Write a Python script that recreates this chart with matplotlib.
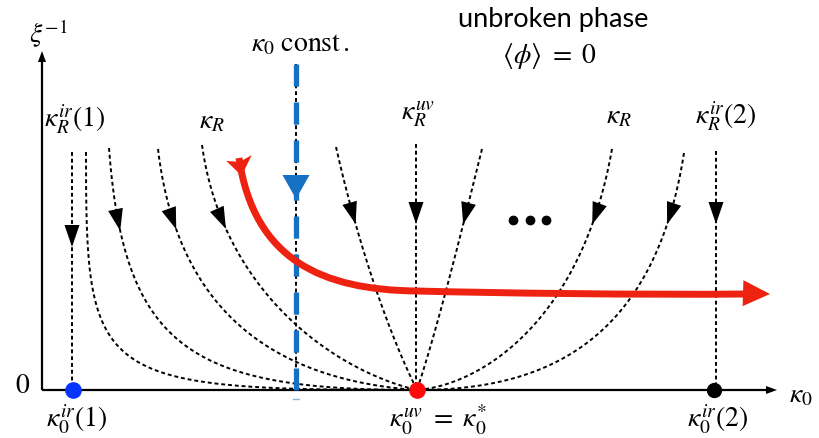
import numpy as np
import matplotlib
matplotlib.use("Agg")
import matplotlib.pyplot as plt
from matplotlib.path import Path
from matplotlib.patches import PathPatch, Polygon

plt.rcParams['mathtext.fontset'] = 'stix'
plt.rcParams['font.family'] = ['STIXGeneral', 'DejaVu Sans']

# ---- schematic data (kappa_0 horizontal, xi^-1 vertical) ----
# fixed points on the kappa_0 axis
fixed_x = [31, 375, 672]
fixed_colors = ['#0535ff', '#ff0a0a', '#000000']
fixed_labels = [r'$\kappa_0^{ir}(1)$', r'$\kappa_0^{uv}\ =\ \kappa_0^{*}$', r'$\kappa_0^{ir}(2)$']
fixed_label_x = [35, 396, 676]

# vertical flows into the IR fixed points and the UV fixed point
vert_x = [30, 374, 674]
vert_top = [238, 246, 239]
vert_arrow_y = [143, 166, 166]

# curved flows into the UV fixed point (cubic Bezier control points)
flow_p0 = [(44, 238), (67, 242), (116, 241), (160, 245), (294, 243), (440, 241), (570, 241), (642, 237)]
flow_p1 = [(44, 10), (82, 40), (135, 80), (180, 100), (315, 150), (420, 160), (540, 70), (612, 45)]
flow_p2 = [(50, 0), (150, 0), (230, 10), (290, 20), (345, 60), (395, 60), (440, 5), (500, 0)]
flow_arrow_y = [None, 159, 161, 161, 166, 166, 166, 166]

# constant-kappa_0 line
const_x = 254
const_top = 326
const_arrow_y = 191

# phase trajectory (red)
traj_ctrl = [(197, 232), (212, 130), (280, 100), (375, 99),
             (450, 97), (600, 95), (705, 96)]
traj_tip = (728, 96)

# ellipsis dots
ell_x = [471, 488, 504]
ell_y = 170

# coupling labels above the flows
top_labels = [r'$\kappa_R^{ir}(1)$', r'$\kappa_R$', r'$\kappa_R^{uv}$', r'$\kappa_R$', r'$\kappa_R^{ir}(2)$']
top_label_x = [33, 170, 376, 577, 684]
top_label_y = [271, 269, 276, 274, 274]

BLUE_LINE = '#1670c4'
RED_LINE = '#ee2211'

fig = plt.figure(figsize=(8.19, 4.39), dpi=100)
ax = fig.add_axes([0, 0, 1, 1])
ax.set_xlim(-42, 777)
ax.set_ylim(-48, 391)
ax.axis('off')


def head(tip, direction, length, width, color, z=5):
    d = np.asarray(direction, float)
    d /= np.hypot(*d)
    n = np.array([-d[1], d[0]])
    tip = np.asarray(tip, float)
    base = tip - d * length
    pts = [tip, base + n * width / 2, base - n * width / 2]
    ax.add_patch(Polygon(pts, closed=True, facecolor=color, edgecolor='none', zorder=z))


def bezier(p0, p1, p2, p3, n=400):
    t = np.linspace(0, 1, n)[:, None]
    p0, p1, p2, p3 = map(np.asarray, (p0, p1, p2, p3))
    return ((1 - t) ** 3 * p0 + 3 * (1 - t) ** 2 * t * p1
            + 3 * (1 - t) * t ** 2 * p2 + t ** 3 * p3)


dot_style = dict(color='black', lw=1.4, linestyle=(0, (2.0, 1.5)), zorder=2)

# axes with arrows
ax.plot([0, 0], [0, 330], color='black', lw=1.6, zorder=3, solid_capstyle='butt')
head((0, 339), (0, 1), 11, 8, 'black')
ax.plot([0, 726], [0, 0], color='black', lw=1.6, zorder=3, solid_capstyle='butt')
head((735, 0), (1, 0), 11, 8, 'black')

# vertical flows
for x, top, ay in zip(vert_x, vert_top, vert_arrow_y):
    ax.plot([x, x], [top, 0], **dot_style)
    head((x, ay), (0, -1), 22, 15, 'black')

# curved flows
end = (fixed_x[1], 0)
for p0, p1, p2, ay in zip(flow_p0, flow_p1, flow_p2, flow_arrow_y):
    pts = bezier(p0, p1, p2, end)
    ax.plot(pts[:, 0], pts[:, 1], **dot_style)
    if ay is not None:
        i = np.argmin(np.abs(pts[:, 1] - ay))
        d = pts[min(i + 3, len(pts) - 1)] - pts[max(i - 3, 0)]
        head(pts[i], d, 22, 15, 'black')

# constant kappa_0 line
ax.plot([const_x, const_x], [const_top, 0], **dot_style)
ax.plot([const_x, const_x], [const_top, 0], color=BLUE_LINE, lw=3.8,
        linestyle=(0, (4.2, 3.0)), zorder=4)
ax.plot([const_x - 3, const_x + 3], [-9, -9], color=BLUE_LINE, lw=1, alpha=0.5, zorder=4)
head((const_x, const_arrow_y), (0, -1), 24, 27, BLUE_LINE, z=6)

# phase trajectory
codes = [Path.MOVETO] + [Path.CURVE4] * 6
ax.add_patch(PathPatch(Path(traj_ctrl, codes), facecolor='none', edgecolor=RED_LINE,
                       lw=5.0, capstyle='butt', zorder=7))
head(traj_tip, (1, -0.03), 27, 26, RED_LINE, z=8)
# tail flare at the start of the trajectory
p0 = np.array(traj_ctrl[0], float)
d0 = np.array(traj_ctrl[1], float) - p0
d0 /= np.hypot(*d0)
n0 = np.array([-d0[1], d0[0]])
ax.add_patch(Polygon([p0 + n0 * 13 - d0 * 1, p0 + d0 * 4, p0 - n0 * 13 + d0 * 1, p0 + d0 * 18],
                     closed=True, facecolor=RED_LINE, edgecolor='none', zorder=8))

# fixed points
for x, c in zip(fixed_x, fixed_colors):
    ax.plot(x, 0, 'o', ms=11 if c != '#000000' else 10, color=c, zorder=9)

# ellipsis
ax.plot(ell_x, [ell_y] * len(ell_x), 'o', ms=6, color='black', zorder=3)

# labels
ax.text(6, 357, r'$\xi^{-1}$', fontsize=20, ha='center', va='center')
ax.text(-19, 5, r'$0$', fontsize=20, ha='center', va='center')
ax.text(759, -5, r'$\kappa_0$', fontsize=20, ha='center', va='center')
ax.text(258, 346, r'$\kappa_0\ \mathrm{const}\,.$', fontsize=20, ha='center', va='center')
for lab, x in zip(fixed_labels, fixed_label_x):
    ax.text(x, -29, lab, fontsize=20, ha='center', va='center')
for lab, x, y in zip(top_labels, top_label_x, top_label_y):
    ax.text(x, y, lab, fontsize=20, ha='center', va='center')
ax.text(511, 371, 'unbroken phase', fontsize=19.5, family=['Lato', 'DejaVu Sans'],
        ha='center', va='center')
ax.text(508, 335, r'$\langle\phi\rangle\ =\ 0$', fontsize=20, ha='center', va='center')

fig.savefig('out.png', dpi=100)
